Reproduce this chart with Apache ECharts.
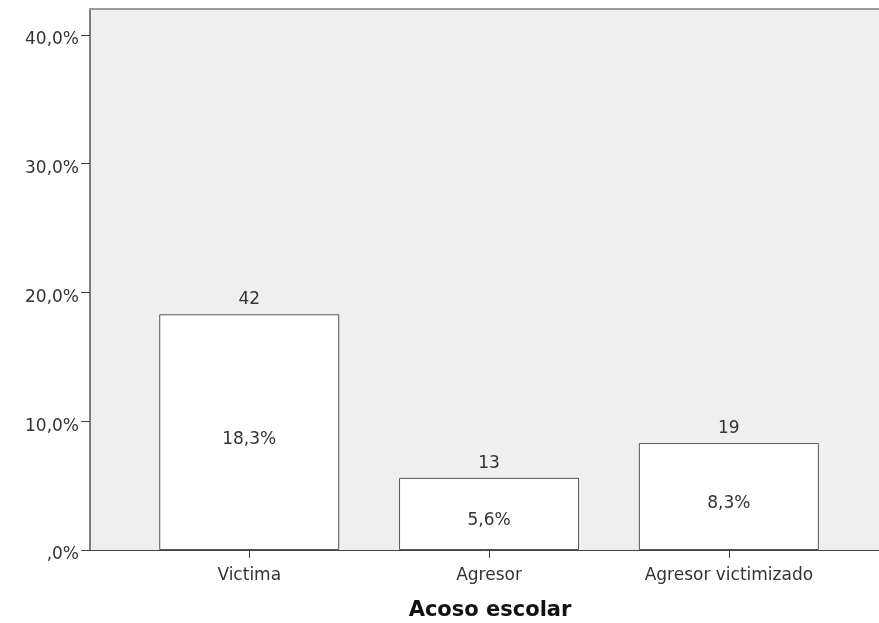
<!DOCTYPE html>
<html>
<head>
<meta charset="utf-8">
<script src="https://cdn.jsdelivr.net/npm/echarts@6/dist/echarts.min.js"></script>
<style>
  html, body { margin: 0; padding: 0; background: #ffffff; }
  #chart { width: 879px; height: 623px; }
</style>
</head>
<body>
<div id="chart"></div>
<script>
// Acoso escolar: porcentaje de casos por categoría, con el recuento encima de cada barra
const categories = ['Victima', 'Agresor', 'Agresor victimizado'];
const percentages = [18.3, 5.6, 8.3];
const counts = [42, 13, 19];
const yTicks = [0, 10, 20, 30, 40];

const FONT = 'DejaVu Sans';
const catIndex = categories.map((_, i) => i);
const X_MIN = -0.664;
const X_MAX = 2.626;

function pctLabel(v) {
  if (v === 0) return ',0%';
  return v.toFixed(1).replace('.', ',') + '%';
}

const chart = echarts.init(document.getElementById('chart'), null, { renderer: 'canvas' });

chart.setOption({
  animation: false,
  backgroundColor: '#ffffff',
  grid: {
    left: 90,
    top: 9,
    right: 0,
    bottom: 73,
    outerBoundsMode: 'none',
    containLabel: false,
    show: true,
    backgroundColor: '#efefef',
    borderWidth: 0
  },
  xAxis: [
    {
      type: 'value',
      min: X_MIN,
      max: X_MAX,
      name: 'Acoso escolar',
      nameLocation: 'middle',
      nameGap: 50,
      nameTextStyle: {
        fontFamily: FONT,
        fontSize: 21,
        fontWeight: 'bold',
        color: '#111111',
        padding: [0, 0, 0, 11]
      },
      axisLine: { show: true, onZero: false, lineStyle: { color: '#444444', width: 1 } },
      axisTick: {
        show: true,
        customValues: catIndex,
        length: 8,
        lineStyle: { color: '#444444' }
      },
      axisLabel: {
        customValues: catIndex,
        formatter: v => categories[Math.round(v)] || '',
        fontFamily: FONT,
        fontSize: 17,
        color: '#333333',
        margin: 17
      },
      splitLine: { show: false }
    },
    {
      // frame line along the top of the plot
      type: 'value',
      position: 'top',
      min: X_MIN,
      max: X_MAX,
      axisLine: { show: true, onZero: false, lineStyle: { color: '#9a9a9a', width: 2 } },
      axisTick: { show: false },
      axisLabel: { show: false },
      splitLine: { show: false }
    }
  ],
  yAxis: {
    type: 'value',
    min: 0,
    max: 42,
    axisLine: { show: true, onZero: false, lineStyle: { color: '#555555', width: 1.5 } },
    axisTick: {
      show: true,
      customValues: yTicks,
      length: 9,
      lineStyle: { color: '#444444' }
    },
    axisLabel: {
      customValues: yTicks,
      formatter: pctLabel,
      fontFamily: FONT,
      fontSize: 17,
      color: '#333333',
      margin: 11,
      verticalAlign: 'top',
      lineHeight: 10
    },
    splitLine: { show: false }
  },
  series: [
    {
      type: 'bar',
      barWidth: 180,
      data: percentages.map((p, i) => [i, p]),
      itemStyle: { color: '#ffffff', borderColor: '#555555', borderWidth: 1 },
      label: {
        show: true,
        position: 'inside',
        offset: [0, 7],
        formatter: p => pctLabel(percentages[p.dataIndex]),
        fontFamily: FONT,
        fontSize: 17,
        color: '#333333'
      }
    },
    {
      // count of cases above each bar
      type: 'scatter',
      symbolSize: 0,
      itemStyle: { color: '#555555', opacity: 1 },
      data: percentages.map((p, i) => [i, p]),
      label: {
        show: true,
        position: 'top',
        distance: 6,
        formatter: p => String(counts[p.dataIndex]),
        fontFamily: FONT,
        fontSize: 17,
        color: '#333333'
      },
      z: 5
    }
  ]
});
</script>
</body>
</html>
